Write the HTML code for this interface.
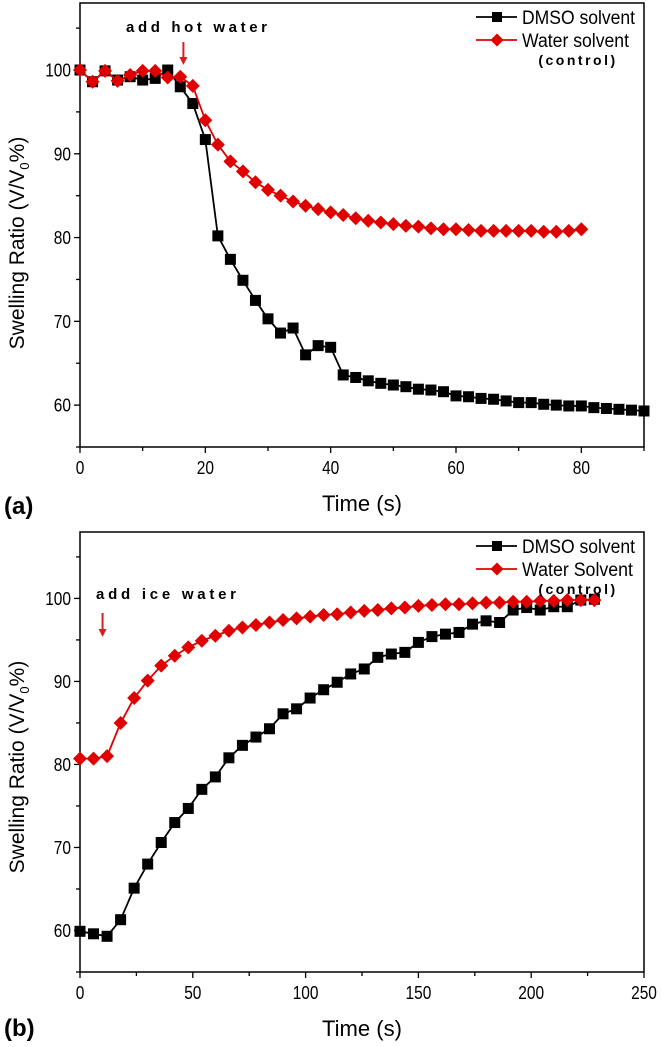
<!DOCTYPE html>
<html><head><meta charset="utf-8"><style>
body{margin:0;background:#fff}
svg{display:block;font-family:"Liberation Sans",Arial,sans-serif}
</style></head><body>
<svg id="chart" width="661" height="1047" viewBox="0 0 661 1047" xmlns="http://www.w3.org/2000/svg"></svg>
<script>
// Panel (a) data
const aDmsoT = [0,2,4,6,8,10,12,14,16,18,20,22,24,26,28,30,32,34,36,38,40,42,44,46,48,50,52,54,56,58,60,62,64,66,68,70,72,74,76,78,80,82,84,86,88,90];
const aDmsoV = [100,98.6,99.9,98.8,99.2,98.8,99.0,100,98.0,96.0,91.7,80.2,77.4,74.9,72.5,70.3,68.6,69.2,66.0,67.1,66.9,63.6,63.3,62.9,62.6,62.4,62.2,61.9,61.8,61.6,61.1,61.0,60.8,60.7,60.5,60.3,60.3,60.1,60.0,59.9,59.9,59.7,59.6,59.5,59.4,59.3];
const aWaterT = [0,2,4,6,8,10,12,14,16,18,20,22,24,26,28,30,32,34,36,38,40,42,44,46,48,50,52,54,56,58,60,62,64,66,68,70,72,74,76,78,80];
const aWaterV = [100,98.6,99.9,98.7,99.4,99.9,99.9,99.1,99.2,98.1,94.0,91.1,89.1,87.9,86.6,85.7,85.0,84.3,83.8,83.4,83.0,82.7,82.3,82.0,81.8,81.6,81.4,81.3,81.1,81.0,81.0,80.9,80.8,80.8,80.8,80.8,80.8,80.7,80.7,80.8,81.0];
const aXTicks = [0,20,40,60,80];
const aYTicks = [60,70,80,90,100];
// Panel (b) data
const bDmsoT = [0,6,12,18,24,30,36,42,48,54,60,66,72,78,84,90,96,102,108,114,120,126,132,138,144,150,156,162,168,174,180,186,192,198,204,210,216,222,228];
const bDmsoV = [59.9,59.6,59.3,61.3,65.1,68.0,70.6,73.0,74.7,77.0,78.5,80.8,82.3,83.3,84.3,86.1,86.7,88.0,89.0,89.9,90.9,91.5,92.9,93.3,93.5,94.7,95.4,95.7,95.9,96.9,97.3,97.1,98.6,98.9,98.6,99.0,99.0,99.8,99.9];
const bWaterT = [0,6,12,18,24,30,36,42,48,54,60,66,72,78,84,90,96,102,108,114,120,126,132,138,144,150,156,162,168,174,180,186,192,198,204,210,216,222,228];
const bWaterV = [80.7,80.7,81.0,85.0,88.0,90.1,91.9,93.1,94.1,94.9,95.5,96.1,96.5,96.8,97.1,97.4,97.6,97.8,98.0,98.1,98.3,98.5,98.6,98.8,98.9,99.1,99.2,99.3,99.3,99.4,99.5,99.5,99.6,99.6,99.7,99.7,99.8,99.8,99.8];
const bXTicks = [0,50,100,150,200,250];
const bYTicks = [60,70,80,90,100];

const NS="http://www.w3.org/2000/svg";
const svg=document.getElementById('chart');
function el(tag,attrs,parent,text){const e=document.createElementNS(NS,tag);for(const k in attrs)e.setAttribute(k,attrs[k]);if(text!==undefined)e.textContent=text;(parent||svg).appendChild(e);return e;}

function panel(p){
  const g=el('g',{});
  
  
  const L=80,R=644,T=p.top,B=p.bottom;
  const sx=t=>L+(t-p.xmin)/(p.xmax-p.xmin)*(R-L);
  const sy=v=>B-(v-p.ymin)/(p.ymax-p.ymin)*(B-T);
  const frame=el('rect',{x:L,y:T,width:R-L,height:B-T,fill:'none',stroke:'#000','stroke-width':1.5},g);
  
  
  for(let v=p.xmin;v<=p.xmax+1e-9;v+=p.xminor){
    const major=p.xTicks.includes(v);
    const t=el('line',{x1:sx(v),x2:sx(v),y1:B,y2:B+(major?6:4),stroke:'#000','stroke-width':1.3},g);
    
    
  }
  p.xTicks.forEach(v=>{
    const s=String(v);
    const t=el('text',{x:sx(v),y:B+27,'text-anchor':'middle','font-size':18,textLength:s.length*8.6,lengthAdjust:'spacingAndGlyphs'},g,s);
    
    
  });
  for(let v=55;v<=p.ymax;v+=5){
    const major=p.yTicks.includes(v);
    const t=el('line',{x1:L,x2:L-(major?6:4),y1:sy(v),y2:sy(v),stroke:'#000','stroke-width':1.3},g);
    
    
  }
  p.yTicks.forEach(v=>{
    const s=String(v);
    const t=el('text',{x:L-9,y:sy(v)+6.5,'text-anchor':'end','font-size':18,textLength:s.length*8.6,lengthAdjust:'spacingAndGlyphs'},g,s);
    
    
  });
  const xt=el('text',{x:362,y:p.xTitleY,'text-anchor':'middle','font-size':22,textLength:80,lengthAdjust:'spacingAndGlyphs'},g,'Time (s)');
  
  
  const yt=el('text',{transform:`translate(24,${p.yTitleY}) rotate(-90)`,'text-anchor':'middle','font-size':21},g);
  
  
  el('tspan',{},yt,'Swelling Ratio (V/V');
  el('tspan',{'font-size':13,dy:5},yt,'0');
  el('tspan',{dy:-5},yt,'%)');
  const lab=el('text',{x:4,y:p.labelY,'font-size':24,'font-weight':'bold'},g,'('+p.id+')');
  
  
  function series(T_,V_,color,shape,name){
    const sg=el('g',{},g);
    
    
    const pts=T_.map((t,i)=>sx(t)+','+sy(V_[i])).join(' ');
    el('polyline',{points:pts,fill:'none',stroke:color,'stroke-width':1.8},sg);
    T_.forEach((t,i)=>{
      const x=sx(t),y=sy(V_[i]);let m;
      if(shape==='sq')m=el('rect',{x:x-5.5,y:y-5.5,width:11,height:11,fill:color},sg);
      else m=el('polygon',{points:`${x},${y-7} ${x+7},${y} ${x},${y+7} ${x-7},${y}`,fill:color},sg);
      
      
    });
  }
  series(p.dT,p.dV,'#000','sq','dmso-series');
  series(p.wT,p.wV,'#e00000','di','water-series');
  const lg=el('g',{},g);
  
  
  const ly1=T+14,ly2=T+37;
  el('line',{x1:476,x2:517,y1:ly1,y2:ly1,stroke:'#000','stroke-width':1.8},lg);
  el('rect',{x:492,y:ly1-5,width:10,height:10,fill:'#000'},lg);
  el('text',{x:522,y:ly1+7,'font-size':19,textLength:113,lengthAdjust:'spacingAndGlyphs'},lg,'DMSO solvent');
  el('line',{x1:476,x2:517,y1:ly2,y2:ly2,stroke:'#e00000','stroke-width':1.8},lg);
  el('polygon',{points:`497,${ly2-6.5} 503.5,${ly2} 497,${ly2+6.5} 490.5,${ly2}`,fill:'#e00000'},lg);
  el('text',{x:522,y:ly2+7,'font-size':19,textLength:p.waterLen,lengthAdjust:'spacingAndGlyphs'},lg,p.waterLabel);
  el('text',{x:578,y:ly2+25,'font-size':14,'font-weight':'bold','letter-spacing':2.5,'text-anchor':'middle'},lg,'(control)');
  const an=el('g',{},g);
  
  
  el('text',{x:p.annX,y:p.annY,'font-size':15,'font-weight':'bold',textLength:p.annLen,lengthAdjust:'spacing'},an,p.annText);
  const ax=sx(p.arrowT);
  el('line',{x1:ax,x2:ax,y1:p.arrowY1,y2:p.arrowY2-6,stroke:'#d42020','stroke-width':2},an);
  el('polygon',{points:`${ax-4},${p.arrowY2-8} ${ax+4},${p.arrowY2-8} ${ax},${p.arrowY2}`,fill:'#d42020'},an);
}

panel({id:'a',top:3,bottom:447,xmin:0,xmax:90,xminor:10,ymin:55,ymax:108,xTicks:aXTicks,yTicks:aYTicks,
  dT:aDmsoT,dV:aDmsoV,wT:aWaterT,wV:aWaterV,xTitleY:511,yTitleY:243,labelY:514,waterLabel:'Water solvent',waterLen:107,
  annText:'add hot water',annLen:141,annX:126,annY:32,arrowT:16.5,arrowY1:42,arrowY2:65});
panel({id:'b',top:532,bottom:972,xmin:0,xmax:250,xminor:25,ymin:55,ymax:108,xTicks:bXTicks,yTicks:bYTicks,
  dT:bDmsoT,dV:bDmsoV,wT:bWaterT,wV:bWaterV,xTitleY:1036,yTitleY:767,labelY:1036,waterLabel:'Water Solvent',waterLen:111,
  annText:'add ice water',annLen:140,annX:96,annY:599,arrowT:10,arrowY1:613,arrowY2:637});
</script>
</body></html>
